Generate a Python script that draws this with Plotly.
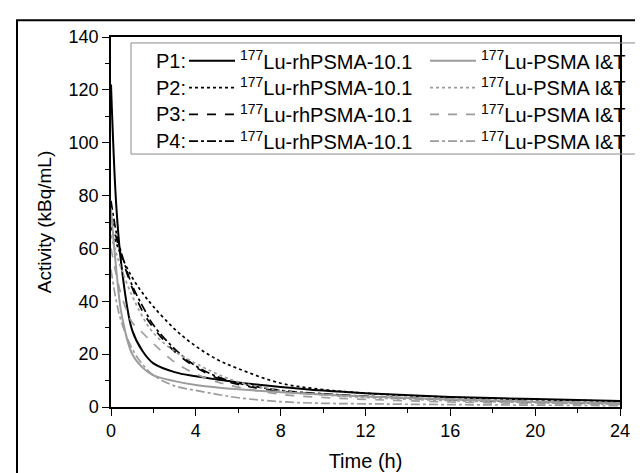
import plotly.graph_objects as go

# sampling times (h)
time_h = [0, 0.25, 0.5, 1, 1.5, 2, 3, 4, 5, 6, 8, 10, 12, 16, 20, 24]

# 177Lu-rhPSMA-10.1 (kBq/mL)
p1_rh = [122, 76, 53, 29, 21, 16.5, 13.2, 11.6, 10.4, 9.3, 7.6, 6.2, 5.2, 3.8, 3.0, 2.3]
p2_rh = [68, 62, 57, 49, 43, 38, 29.5, 23, 18, 14.5, 9, 6.6, 5.2, 3.7, 2.8, 2.2]
p3_rh = [72, 64, 57, 45, 36, 30, 21, 15, 11, 8.5, 6, 4.8, 4.0, 2.8, 2.0, 1.4]
p4_rh = [78, 66, 58, 46, 38, 31, 22, 15.5, 11.5, 9, 6.3, 5.0, 4.1, 2.8, 1.9, 1.3]

# 177Lu-PSMA I&T (kBq/mL)
p1_it = [75, 52, 35, 20, 14.8, 12, 9.8, 8.3, 7.4, 6.7, 5.6, 4.7, 4.0, 2.8, 2.0, 1.4]
p2_it = [65, 58, 52, 42, 34, 28, 21, 16.5, 12.5, 9.5, 6.2, 4.6, 3.6, 2.4, 1.6, 1.0]
p3_it = [60, 50, 42, 32, 28, 24, 17, 12.5, 9.5, 7.5, 4.8, 3.6, 2.9, 1.9, 1.3, 0.9]
p4_it = [52, 40, 32, 22, 16, 12, 8, 6.3, 4.8, 3.5, 2.0, 1.4, 1.2, 0.9, 0.7, 0.5]

patients = ["P1:", "P2:", "P3:", "P4:"]
rh_series = [p1_rh, p2_rh, p3_rh, p4_rh]
it_series = [p1_it, p2_it, p3_it, p4_it]
dashes = ["solid", "dot", "dash", "dashdot"]

W, H = 643, 473
L, R, T, B = 103, 31, 29, 71
pw, ph = W - L - R, H - T - B


def px(x):
    return (x - L) / pw


def py(y):
    return (H - B - y) / ph


font = "Liberation Sans, Arial, sans-serif"
row_y = [53, 80, 107, 134]
fig = go.Figure()
legends = {}
ann = []

for i, (lab, vals, dash) in enumerate(zip(patients, rh_series, dashes)):
    key = "legend" if i == 0 else f"legend{i + 1}"
    fig.add_trace(go.Scatter(
        x=time_h, y=vals, mode="lines", line_shape="spline",
        line=dict(color="black", width=2 if dash == "solid" else 1.7, dash=dash),
        name="<sup>177</sup>Lu-rhPSMA-10.1", legend=key))
    legends[key] = dict(x=px(176), y=py(row_y[i]))
    ann.append(dict(x=px(180), y=py(row_y[i]), xref="paper", yref="paper", text=lab,
                    showarrow=False, xanchor="right", yanchor="middle",
                    font=dict(size=20, color="black", family=font)))

for i, (vals, dash) in enumerate(zip(it_series, dashes)):
    key = f"legend{i + 5}"
    fig.add_trace(go.Scatter(
        x=time_h, y=vals, mode="lines", line_shape="spline",
        line=dict(color="#9c9c9c", width=2 if dash == "solid" else 1.7, dash=dash),
        name="<sup>177</sup>Lu-PSMA I&T", legend=key))
    legends[key] = dict(x=px(417), y=py(row_y[i]))

for key, pos in legends.items():
    legends[key] = dict(x=pos["x"], y=pos["y"], xanchor="left", yanchor="middle",
                        bgcolor="rgba(0,0,0,0)", borderwidth=0, itemwidth=46,
                        font=dict(size=20, color="black", family=font))

fig.update_layout(
    width=W, height=H,
    margin=dict(l=L, r=R, t=T, b=B),
    paper_bgcolor="white", plot_bgcolor="white",
    font=dict(family=font, size=18, color="black"),
    showlegend=True,
    annotations=ann,
    shapes=[
        dict(type="rect", xref="paper", yref="paper",
             x0=px(123), x1=px(631), y0=py(147), y1=py(35),
             line=dict(color="#8a8a8a", width=1)),
        dict(type="rect", xref="paper", yref="paper",
             x0=px(9), x1=px(680), y0=py(500), y1=py(12),
             line=dict(color="black", width=2)),
    ],
    xaxis=dict(range=[0, 24], tickvals=[0, 4, 8, 12, 16, 20, 24],
               ticks="outside", ticklen=7, tickwidth=1.2, tickcolor="black",
               minor=dict(dtick=2, ticks="outside", ticklen=4, tickcolor="black"),
               showline=True, linecolor="black", linewidth=1.5, mirror=True,
               showgrid=False, zeroline=False,
               title=dict(text="Time (h)", standoff=14, font=dict(size=20)),
               tickfont=dict(size=18)),
    yaxis=dict(range=[0, 140], tickvals=[0, 20, 40, 60, 80, 100, 120, 140],
               ticks="outside", ticklen=7, tickwidth=1.2, tickcolor="black",
               minor=dict(dtick=10, ticks="outside", ticklen=4, tickcolor="black"),
               showline=True, linecolor="black", linewidth=1.5, mirror=True,
               showgrid=False, zeroline=False,
               title=dict(text="Activity (kBq/mL)", standoff=12, font=dict(size=19)),
               tickfont=dict(size=18)),
    **legends,
)

fig.write_html("out.html")
